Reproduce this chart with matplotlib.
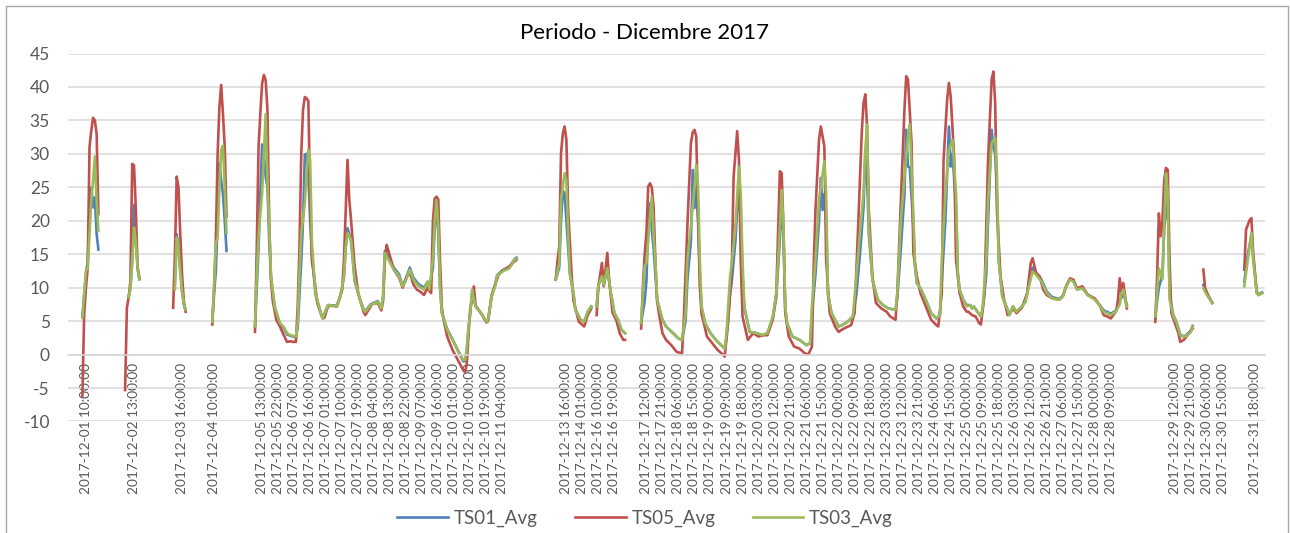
import numpy as np
import matplotlib
matplotlib.use("Agg")
import matplotlib.pyplot as plt
from matplotlib.patches import Rectangle

plt.rcParams['font.family'] = ['Lato', 'DejaVu Sans']
plt.rcParams['axes.unicode_minus'] = False

# hourly rows (category index, value); None = gap in the record
ts01 = [(7,5.5),(8,9),(9,12),(10,14),(11,22),(12,25),(13,22),(14,23.5),(15,18),(16,15.7), None,
        (33,8.6),(34,10),(35,14),(36,22.4),(37,17),(38,13),(39,11.3), None,
        (59,11),(60,18),(61,16),(62,12.5),(63,9.5),(64,7.5),(65,6.7), None,
        (80,4.9),(81,9),(82,12.5),(83,20),(84,28.6),(85,26),(86,24),(87,20),(88,15.5), None,
        (104,4.2),(105,10),(106,16),(107,24),(108,31.4),(109,30),(110,26.6),(111,25),(112,17),(113,11.5),(115,7.2),
        (118,4.6),(120,4),(122,3),(124,2.8),(127,2.6),(128,4),(129,9),(130,14),(131,20),(132,29.9),(133,30),(134,27),
        (135,20),(136,15),(138,9),(141,6.2),(142,5.5),(145,7.4),(150,7.3),(152,8.7),(154,11.5),(155,16),(156,18.9),
        (158,17),(159,14),(160,11),(163,8.2),(165,6.8),(166,6.5),(169,7.5),(173,8),(175,7),(176,8.7),(177,15.5),
        (179,14.5),(182,13),(185,12),(187,10.2),(189,11.5),(191,13),(193,11.5),(196,10.5),(199,10),(201,10.9),
        (202,9.8),(204,13),(205,19),(206,22.5),(207,18),(208,10),(209,6.3),(212,3.8),(215,2.3),(218,0.6),(221,-1),
        (222,-1),(223,0.5),(224,4),(225,6.2),(226,9.2),(227,8.3),(228,7.3),(231,6.2),(234,4.9),(235,5.2),(237,8.7),
        (239,10.4),(240,11.8),(243,12.6),(247,13.1),(250,14.3),(251,14.5), None,
        (273,11.2),(275,13),(276,20),(277,24.5),(278,24.1),(279,20),(280,16),(281,12),(283,9.2),(284,6.8),(287,5.2),
        (289,4.9),(291,6.4),(293,7.2), None,
        (296,7.2),(297,10.4),(299,11.7),(300,10.4),(302,12.9),(304,9.2),(306,6.2),(308,5.2),(310,3.7),(312,3.2), None,
        (321,4.7),(323,8),(324,11),(325,20),(326,22.6),(327,18.7),(328,16),(329,12),(330,8.2),(333,5.2),(335,4.2),
        (339,3.2),(342,2.4),(344,2.2),(346,5),(347,11),(349,17),(350,27.6),(351,21.9),(352,25),(353,20),(354,12),
        (355,7),(357,4.7),(360,3.2),(363,2.2),(366,1.4),(368,0.9),(369,2.5),(371,9),(372,11),(374,17),(375,21.6),
        (376,24),(377,20),(378,12),(379,7),(382,3.4),(386,3.2),(389,2.9),(392,3.2),(395,5.5),(397,8.5),(399,17.5),
        (400,22),(401,18),(402,7),(403,4.7),(406,2.7),(410,2.2),(414,1.4),(416,1.7),(417,6),(419,12),(421,20),
        (422,26.4),(423,21.6),(424,24),(425,20),(426,9),(428,6.2),(431,4.7),(432,4.2),(434,4.4),(437,4.9),(440,5.7),
        (442,9),(444,15),(446,22),(447,30.1),(448,26.6),(449,18),(451,11.2),(454,8.2),(457,7.4),(460,6.9),(464,6.7),
        (465,8.5),(467,16),(469,24),(470,33.6),(471,28.1),(472,28),(474,19),(475,13),(476,10.7),(478,9.9),(481,8.2),
        (484,6.2),(487,5.4),(489,5.9),(490,11),(492,20),(494,34.1),(495,28.1),(496,30),(498,22),(499,12.2),(500,9.7),
        (502,8.2),(504,7.4),(506,7.4),(507,6.9),(508,7.2),(510,6.4),(512,5.7),(513,6.8),(515,12),(516,20),(518,33.6),
        (519,31),(520,30),(521,24),(522,14),(524,8.7),(527,6.7),(528,5.9),(530,7.2),(532,6.4),(535,7.2),(537,7.9),
        (539,10.5),(541,13),(543,12.2),(546,11.2),(549,9.4),(552,8.6),(556,8.3),(558,8.8),(560,10.3),(562,11.3),
        (564,11),(566,9.8),(569,10),(572,9),(576,8.3),(579,7.3),(581,6.6),(583,6.4),(585,6.1),(588,6.6),(590,8.2),
        (591,8.5),(592,9.2),(594,7.4), None,
        (610,5.5),(611,8),(612,10),(614,12),(615,19),(616,21),(617,24),(618,9),(620,6),(622,4.8),(624,3),(625,2.8),
        (627,2.8),(630,3.6),(631,4.3), None,
        (637,10.4),(639,9),(642,7.8), None,
        (660,10.9),(662,15),(664,17.8),(665,14.5),(667,9.4),(668,9),(670,9.3)]

ts05 = [(7,-6.2),(8,6),(9,10),(10,13),(11,31),(12,33.5),(13,35.4),(14,35.0),(15,33),(16,21), None,
        (31,-5.3),(32,7),(33,8.5),(34,11),(35,28.5),(36,28.3),(37,22),(38,13),(39,11.5), None,
        (58,7),(59,15),(60,26.6),(61,25),(62,18),(63,12),(64,8),(65,6.4), None,
        (80,4.5),(81,10),(82,17),(83,30),(84,37),(85,40.3),(86,36),(87,31),(88,20.6), None,
        (104,3.4),(105,16),(106,31),(107,36),(108,40.5),(109,41.8),(110,41),(111,36.6),(112,20),(113,11),(114,8),
        (116,5.2),(118,4.2),(120,3),(122,1.9),(124,2),(125,1.9),(127,1.9),(128,7.2),(129,16),(130,30),(131,36.6),
        (132,38.5),(133,38.3),(134,37.9),(135,22.6),(136,14),(137,12.2),(139,7.7),(142,5.4),(143,5.5),(145,7.2),
        (147,7.3),(150,7.2),(153,9.7),(154,14.2),(156,29.1),(157,23.1),(158,20.1),(160,13.2),(162,9.2),(165,6.4),
        (166,5.9),(169,7.2),(170,7.6),(173,7.7),(175,6.6),(176,8),(177,14),(178,16.4),(179,15.5),(182,12.7),
        (185,11.5),(187,10),(189,11.5),(191,12.3),(193,10.5),(195,9.7),(197,9.4),(199,8.9),(201,10),(202,9.5),
        (203,9.2),(204,20),(205,23.3),(206,23.6),(207,23.2),(208,14),(209,7),(210,5.2),(212,2.7),(215,0.7),
        (218,-0.8),(221,-2.3),(222,-2.6),(223,-1.5),(224,3),(225,7),(226,8.2),(227,10.2),(228,7.2),(231,6.2),
        (234,4.8),(235,5),(237,8.9),(239,10.5),(241,12),(243,12.5),(247,13.2),(251,14.2), None,
        (273,11.2),(274,14),(275,16.2),(276,30.1),(277,33),(278,34.1),(279,32.1),(280,21.6),(282,11.7),(283,8),
        (284,7),(286,4.9),(289,4.2),(291,5.9),(293,6.9), None,
        (296,5.9),(297,10.2),(299,13.7),(300,10.2),(302,15.2),(303,11.2),(305,6.2),(307,5.2),(309,3.2),(311,2.2),
        (312,2.2), None,
        (321,3.9),(322,10),(323,15),(324,18.2),(325,25.1),(326,25.6),(327,25),(328,22.1),(329,14.2),(330,8),
        (331,6.2),(333,3.2),(335,2.2),(338,1.4),(341,0.4),(344,0.2),(345,5.2),(347,19.2),(349,31.6),(350,33.2),
        (351,33.6),(352,32.6),(353,21.6),(354,10.2),(355,6),(356,5),(358,2.7),(361,1.7),(364,0.7),(367,0),
        (368,-0.3),(370,5.2),(372,13.2),(373,26.6),(375,33.4),(376,29.1),(377,14.2),(378,5.7),(381,2.2),(384,3.2),
        (387,2.7),(390,2.9),(392,2.9),(395,5.2),(397,9.2),(399,27.4),(400,27.1),(401,19.2),(402,6.2),(404,2.7),
        (407,1.2),(410,0.9),(413,0.2),(415,0),(417,1.2),(418,13.2),(419,21.6),(421,32.1),(422,34.1),(424,31.1),
        (425,14.2),(427,6.2),(430,4.2),(432,3.4),(435,3.9),(439,4.4),(441,6.2),(443,19.2),(445,33.1),(446,37.6),
        (447,38.9),(448,34.1),(449,21.6),(451,11.7),(453,7.7),(456,6.9),(459,6.4),(461,5.7),(464,5.2),(465,9.2),
        (467,23.1),(469,36.6),(470,41.6),(471,41.1),(473,31.6),(474,15.2),(476,11.7),(478,9.2),(481,7.2),(484,5.2),
        (487,4.4),(488,4.2),(490,9.2),(491,29.1),(493,38.1),(494,40.6),(495,38.6),(497,29.1),(498,14.2),(500,9.2),
        (502,7.2),(504,6.4),(505,6.4),(507,5.9),(509,5.7),(511,4.7),(512,4.5),(514,9.2),(516,29.1),(518,41.1),
        (519,42.3),(520,37.6),(521,21.6),(523,11.7),(525,8.2),(527,5.9),(529,6.5),(530,6.9),(532,6.2),(535,7),
        (538,9.2),(540,13.7),(541,14.4),(543,12.2),(545,11.7),(547,9.7),(549,8.9),(552,8.4),(556,8.2),(558,8.7),
        (560,10.2),(562,11.4),(564,11.2),(566,9.9),(569,10.2),(572,8.9),(576,8.4),(579,7.2),(581,5.9),(583,5.7),
        (585,5.4),(588,6.5),(589,8.2),(590,11.4),(591,9.2),(592,10.7),(594,6.9), None,
        (610,4.9),(611,11.7),(612,21.1),(613,17.7),(614,20),(615,26.1),(616,27.9),(617,27.6),(618,14.2),(619,6.2),
        (621,4.7),(623,3.2),(624,1.9),(626,2.2),(629,3.2),(631,3.9), None,
        (637,12.7),(638,9.9),(640,8.7),(642,7.7), None,
        (660,12.7),(661,18.7),(663,20.1),(664,20.4),(665,15.2),(667,9.2),(668,8.9),(670,9.2)]

ts03 = [(7,5.5),(8,9),(9,12.5),(10,13),(11,18),(12,23),(13,26),(14,29.6),(15,23),(16,18.5), None,
        (33,8.6),(34,10),(35,14),(36,19),(37,17),(38,13),(39,11.2), None,
        (59,9.7),(60,17.5),(61,16),(62,12.5),(63,9.5),(64,7.5),(65,6.7), None,
        (80,4.9),(81,10),(82,16.5),(83,17.5),(84,25),(85,30.6),(86,31.2),(87,25),(88,18.2), None,
        (104,4.2),(105,12),(106,17.7),(107,21),(108,24.1),(109,30),(110,35.9),(111,26),(112,19.2),(113,11.7),
        (115,7.2),(118,4.7),(120,4.2),(122,3.2),(124,2.9),(127,2.7),(128,4.7),(129,12),(130,18.2),(132,22.6),
        (133,27),(134,30.6),(135,29),(136,16.7),(138,9.2),(141,6.2),(142,5.4),(145,7.4),(150,7.2),(152,8.7),
        (154,11.7),(155,16.2),(156,18.2),(158,17.2),(159,14.2),(160,11.2),(163,8.2),(165,6.7),(166,6.4),(169,7.4),
        (173,7.9),(175,6.9),(176,8.7),(177,15.2),(179,14.2),(182,12.7),(185,11.7),(187,10.2),(189,11.2),(191,12.7),
        (193,11.2),(196,10.2),(199,9.7),(201,10.9),(202,9.7),(204,14.2),(205,20.1),(206,23.1),(207,19.2),(208,10.2),
        (209,6.2),(212,3.7),(215,2.2),(218,0.7),(221,-0.8),(222,-0.8),(223,0.7),(224,4),(225,6.2),(226,9.7),
        (227,8.2),(228,7.2),(231,6.2),(234,4.9),(235,5.2),(237,8.7),(239,10.2),(240,11.7),(243,12.4),(247,12.9),
        (250,14.2),(251,14.4), None,
        (273,11.2),(275,13.7),(276,23.1),(278,27.1),(279,26.1),(280,18.2),(281,12.2),(283,9.2),(284,6.7),(287,5.2),
        (289,4.9),(291,6.4),(293,7.2), None,
        (296,7.2),(297,10.4),(299,11.7),(300,10.4),(302,12.9),(304,9.2),(306,6.2),(308,5.2),(310,3.7),(312,3.2), None,
        (321,4.7),(323,13.2),(324,13.7),(326,20.6),(327,23.6),(328,18),(329,14),(330,8.2),(333,5.2),(335,4.2),
        (339,3.2),(342,2.4),(344,2.2),(346,6.2),(347,14.2),(349,19.2),(351,25.1),(352,28.4),(353,25.1),(354,14.2),
        (355,7.2),(357,4.7),(360,3.2),(363,2.2),(366,1.4),(368,0.9),(369,3.2),(371,11.7),(372,13.7),(374,19.2),
        (376,28.1),(377,24.1),(378,14.2),(379,7.2),(382,3.4),(386,3.2),(389,2.9),(392,3.2),(395,5.7),(397,9.2),
        (399,19.2),(400,24.6),(401,19.2),(402,7.2),(403,4.7),(406,2.7),(410,2.2),(414,1.4),(416,1.7),(417,7.2),
        (419,14.2),(421,23.1),(424,28.9),(425,24.1),(426,9.2),(428,6.2),(431,4.7),(432,4.2),(434,4.4),(437,4.9),
        (440,5.7),(442,11.7),(444,18.2),(446,24.1),(447,30.6),(448,34.4),(449,19.2),(451,11.2),(454,8.2),(457,7.4),
        (460,6.9),(464,6.7),(465,9.2),(467,20.1),(469,26.6),(471,32.6),(472,34.4),(474,21.1),(475,13.2),(476,10.7),
        (478,9.9),(481,8.2),(484,6.2),(487,5.4),(489,5.9),(490,14.2),(492,24.1),(494,30.6),(496,32.1),(498,24.1),
        (499,12.2),(500,9.7),(502,8.2),(504,7.2),(506,7.4),(507,6.9),(508,7.2),(510,6.4),(512,5.7),(513,7.2),
        (515,14.2),(516,23.1),(518,31.6),(520,32.4),(521,26.6),(522,14.2),(524,8.7),(527,6.7),(528,5.9),(530,7.2),
        (532,6.4),(535,7.2),(537,7.9),(539,10.2),(541,12.4),(543,11.9),(546,10.9),(549,9.2),(552,8.4),(556,8.2),
        (558,8.7),(560,10.2),(562,11.2),(564,10.9),(566,9.7),(569,9.9),(572,8.9),(576,8.2),(579,7.2),(581,6.4),
        (583,6.2),(585,5.9),(588,6.5),(590,7.5),(591,9.2),(592,9.7),(594,7.2), None,
        (610,5.7),(611,9.2),(612,12.9),(614,11.2),(615,19.2),(616,27.1),(617,24.1),(618,8.2),(620,5.9),(622,4.7),
        (624,2.9),(625,2.7),(627,2.7),(630,3.4),(631,4.2), None,
        (637,9.9),(639,8.9),(642,7.7), None,
        (660,10.2),(662,14.2),(664,18.2),(665,14.2),(667,9.2),(668,8.9),(670,9.2)]

series_names = ['TS01_Avg', 'TS05_Avg', 'TS03_Avg']
series_colors = ['#4F81BD', '#C0504D', '#9BBB59']

# one label every 9 rows, blank where the timestamp cell is empty
tick_labels = ['', '2017-12-01 10:00:00', '', '', '2017-12-02 13:00:00', '', '',
               '2017-12-03 16:00:00', '', '2017-12-04 10:00:00', '', '',
               '2017-12-05 13:00:00', '2017-12-05 22:00:00', '2017-12-06 07:00:00', '2017-12-06 16:00:00',
               '2017-12-07 01:00:00', '2017-12-07 10:00:00', '2017-12-07 19:00:00', '2017-12-08 04:00:00',
               '2017-12-08 13:00:00', '2017-12-08 22:00:00', '2017-12-09 07:00:00', '2017-12-09 16:00:00',
               '2017-12-10 01:00:00', '2017-12-10 10:00:00', '2017-12-10 19:00:00', '2017-12-11 04:00:00',
               '', '', '', '2017-12-13 16:00:00', '2017-12-14 01:00:00', '2017-12-16 10:00:00',
               '2017-12-16 19:00:00', '', '2017-12-17 12:00:00', '2017-12-17 21:00:00', '2017-12-18 06:00:00',
               '2017-12-18 15:00:00', '2017-12-19 00:00:00', '2017-12-19 09:00:00', '2017-12-19 18:00:00',
               '2017-12-20 03:00:00', '2017-12-20 12:00:00', '2017-12-20 21:00:00', '2017-12-21 06:00:00',
               '2017-12-21 15:00:00', '2017-12-22 00:00:00', '2017-12-22 09:00:00', '2017-12-22 18:00:00',
               '2017-12-23 03:00:00', '2017-12-23 12:00:00', '2017-12-23 21:00:00', '2017-12-24 06:00:00',
               '2017-12-24 15:00:00', '2017-12-25 00:00:00', '2017-12-25 09:00:00', '2017-12-25 18:00:00',
               '2017-12-26 03:00:00', '2017-12-26 12:00:00', '2017-12-26 21:00:00', '2017-12-27 06:00:00',
               '2017-12-27 15:00:00', '2017-12-28 00:00:00', '2017-12-28 09:00:00', '', '', '',
               '2017-12-29 12:00:00', '2017-12-29 21:00:00', '2017-12-30 06:00:00', '2017-12-30 15:00:00',
               '', '2017-12-31 18:00:00']
n_rows = 673


def to_xy(pairs):
    x, y = [], []
    for p in pairs:
        if p is None:
            x.append(np.nan)
            y.append(np.nan)
        else:
            x.append(p[0])
            y.append(p[1])
    return np.array(x, float), np.array(y, float)


fig = plt.figure(figsize=(12.9, 5.33), dpi=100)
ax = fig.add_axes([0.0527, 0.2092, 0.928, 0.6904])

# category axis crosses at 0, like the spreadsheet chart
ax.spines['bottom'].set_position(('data', 0))
ax.spines['bottom'].set_color('#D9D9D9')
ax.spines['bottom'].set_linewidth(1.1)
for s in ['top', 'right', 'left']:
    ax.spines[s].set_visible(False)

for data, name, col in zip([ts01, ts05, ts03], series_names, series_colors):
    x, y = to_xy(data)
    ax.plot(x, y, color=col, lw=1.9, label=name, solid_joinstyle='round')

ax.set_xlim(-1.1, n_rows - 1.3)
ax.set_ylim(-10, 45)
ax.set_yticks(np.arange(-10, 46, 5))
ax.set_xticks(np.arange(0, 9 * len(tick_labels), 9))
ax.set_xticklabels(tick_labels)
ax.yaxis.grid(True, color='#D9D9D9', lw=1.1)
ax.set_axisbelow(True)
ax.tick_params(axis='x', length=0, pad=6, labelsize=9.8, labelcolor='#595959', labelrotation=90)
ax.tick_params(axis='y', length=0, pad=13, labelsize=12.5, labelcolor='#595959')
for t in ax.get_xticklabels():
    t.set_va('top')
    t.set_ha('center')

fig.text(0.5, 0.938, 'Periodo - Dicembre 2017', ha='center', va='center', fontsize=16, color='black')
fig.legend(loc='center', bbox_to_anchor=(0.5, 0.028), ncol=3, frameon=False, fontsize=13.5,
           handlelength=2.7, handletextpad=0.3, columnspacing=2.0, labelcolor='#595959')

fig.patches.append(Rectangle((6 / 1290, -0.05), 1282 / 1290, 1.05 - 6 / 533, transform=fig.transFigure,
                             fill=False, edgecolor='#A6A6A6', lw=1))

fig.savefig('out.png', dpi=100)
